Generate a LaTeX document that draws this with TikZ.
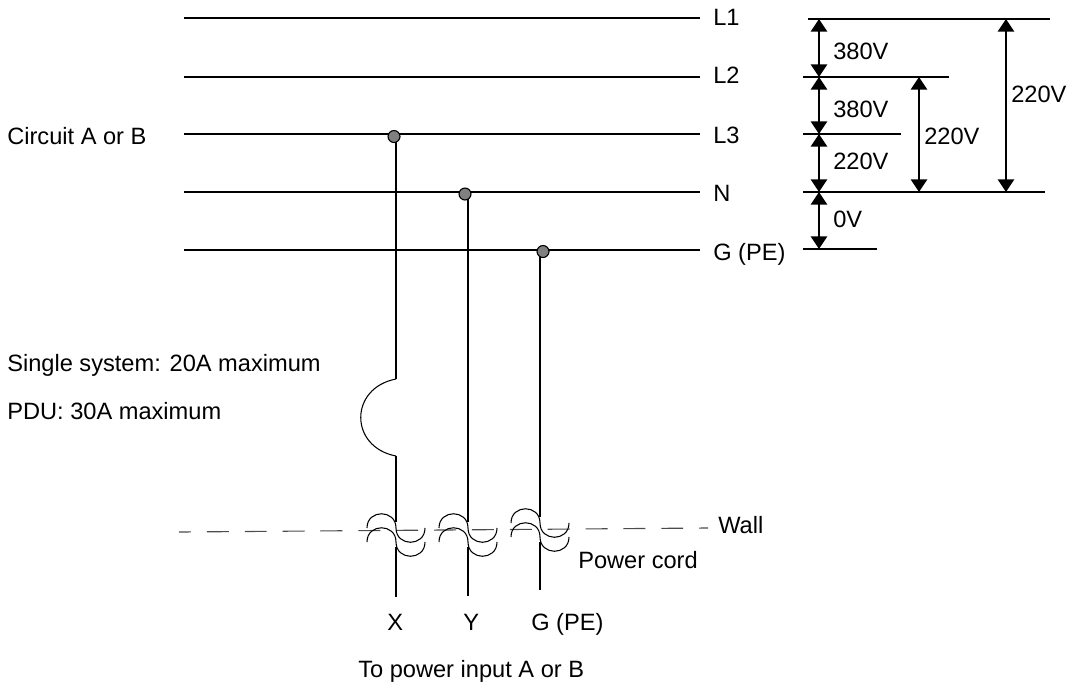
\documentclass[tikz,border=0pt]{standalone}
\usepackage{fontspec}
\setmainfont{Liberation Sans}
\usetikzlibrary{arrows.meta}
\tikzset{
    wire/.style={line width=1.6pt},
    thinwire/.style={line width=0.75pt},
    span/.style={line width=1.6pt, {Triangle[width=11.5pt,length=9pt]}-{Triangle[width=11.5pt,length=9pt]}},
    wall/.style={line width=0.8pt, draw=black!70},
    tap/.style={circle, draw=black, line width=0.8pt, fill=black!50, inner sep=0pt, minimum size=8.5pt},
}
\begin{document}
\begin{tikzpicture}[x=0.025cm, y=-0.025cm, font=\fontsize{16.8}{19}\selectfont]
    \useasboundingbox (0,0) rectangle (1073,686);
    % labels
    \begin{scope}[every node/.style={anchor=base west, inner sep=0pt}]
        \node (L1) at (713, 25) {L1};
        \node (L2) at (713, 83) {L2};
        \node (L3) at (713, 143) {L3};
        \node (N) at (713, 201) {N};
        \node (GPE) at (713, 260) {G (PE)};
        \node (circuit) at (7, 144) {Circuit A or B};
        \node (single) at (7, 371) {Single system: 20A maximum};
        \node (pdu) at (7, 419) {PDU: 30A maximum};
        \node (wall) at (718, 533) {Wall};
        \node (cord) at (578, 568) {Power cord};
        \node (power) at (358, 677) {To power input A or B};
        \node (X) at (387, 630) {X};
        \node (Y) at (463, 630) {Y};
        \node (G) at (531, 630) {G (PE)};
    \end{scope}
    % supply lines
    \coordinate (s1) at (184, 18);
    \coordinate (s2) at (184, 77);
    \coordinate (s3) at (184, 134);
    \coordinate (s4) at (184, 192);
    \coordinate (s5) at (184, 250);
    \coordinate (e1) at (700, 18);
    \coordinate (e2) at (700, 77);
    \coordinate (e3) at (700, 134);
    \coordinate (e4) at (700, 192);
    \coordinate (e5) at (700, 250);
    \draw [wire] (s1) -- (e1);
    \draw [wire] (s2) -- (e2);
    \draw [wire] (s3) -- (e3);
    \draw [wire] (s4) -- (e4);
    \draw [wire] (s5) -- (e5);
    % wires down to the wall
    \coordinate (a0) at (396, 136);
    \coordinate (a1) at (396, 379);
    \coordinate (a2) at (396, 456);
    \coordinate (a3) at (396, 522);
    \coordinate (a4) at (396, 547);
    \coordinate (a5) at (396, 597);
    \coordinate (b0) at (468, 194);
    \coordinate (b3) at (468, 522);
    \coordinate (b4) at (468, 547);
    \coordinate (b5) at (468, 596);
    \coordinate (c0) at (540, 252);
    \coordinate (c3) at (540, 517);
    \coordinate (c4) at (540, 542);
    \coordinate (c5) at (540, 590);
    \draw [wire] (a0) -- (a1);
    \draw [wire] (a2) -- (a3);
    \draw [wire] (a4) -- (a5);
    \draw [wire] (b0) -- (b3);
    \draw [wire] (b4) -- (b5);
    \draw [wire] (c0) -- (c3);
    \draw [wire] (c4) -- (c5);
    \draw [thinwire] (a1) .. controls (349, 388) and (349, 447) .. (a2);
    % wall line
    \coordinate (w0) at (179, 532);
    \coordinate (w1) at (708, 528);
    \draw [wall, dash pattern=on 15.6pt off 11.33pt, dash phase=7.1pt] (w0) -- (w1);
    % cord loops
    \foreach \px/\py in {396/531, 468/531, 540/526} {
        \begin{scope}[shift={(\px,\py)}]
            \draw [thinwire] (-29, -3) .. controls (-29, -22) and (0, -22) .. (0, -3)
                .. controls (0, 16) and (29, 16) .. (29, -3);
            \draw [thinwire] (-29, 11) .. controls (-29, -8) and (0, -8) .. (0, 11)
                .. controls (0, 30) and (29, 30) .. (29, 11);
        \end{scope}
    }
    \begin{scope}[every node/.style={tap}]
        \node (d1) at (394, 136.5) {};
        \node (d2) at (465, 194) {};
        \node (d3) at (543, 251.5) {};
    \end{scope}
    % voltage levels
    \coordinate (t1) at (808, 19);
    \coordinate (t2) at (1050, 19);
    \coordinate (u1) at (803, 77);
    \coordinate (u2) at (949, 77);
    \coordinate (v1) at (803, 134);
    \coordinate (v2) at (901, 134);
    \coordinate (n1) at (803, 192);
    \coordinate (n2) at (1045, 192);
    \coordinate (g1) at (803, 249);
    \coordinate (g2) at (877, 249);
    \draw [wire] (t1) -- (t2);
    \draw [wire] (u1) -- (u2);
    \draw [wire] (v1) -- (v2);
    \draw [wire] (n1) -- (n2);
    \draw [wire] (g1) -- (g2);
    \draw [span] (819, 19) -- (819, 77);
    \draw [span] (819, 77) -- (819, 134);
    \draw [span] (819, 134) -- (819, 192);
    \draw [span] (819, 192) -- (819, 249);
    \draw [span] (919, 77) -- (919, 192);
    \draw [span] (1006, 19) -- (1006, 192);
    \begin{scope}[every node/.style={anchor=base west, inner sep=0pt}]
        \node (va) at (833, 59) {380V};
        \node (vb) at (833, 117) {380V};
        \node (vc) at (833, 169) {220V};
        \node (vd) at (833, 227) {0V};
        \node (ve) at (924, 144) {220V};
        \node (vf) at (1011, 102) {220V};
    \end{scope}
\end{tikzpicture}
\end{document}
